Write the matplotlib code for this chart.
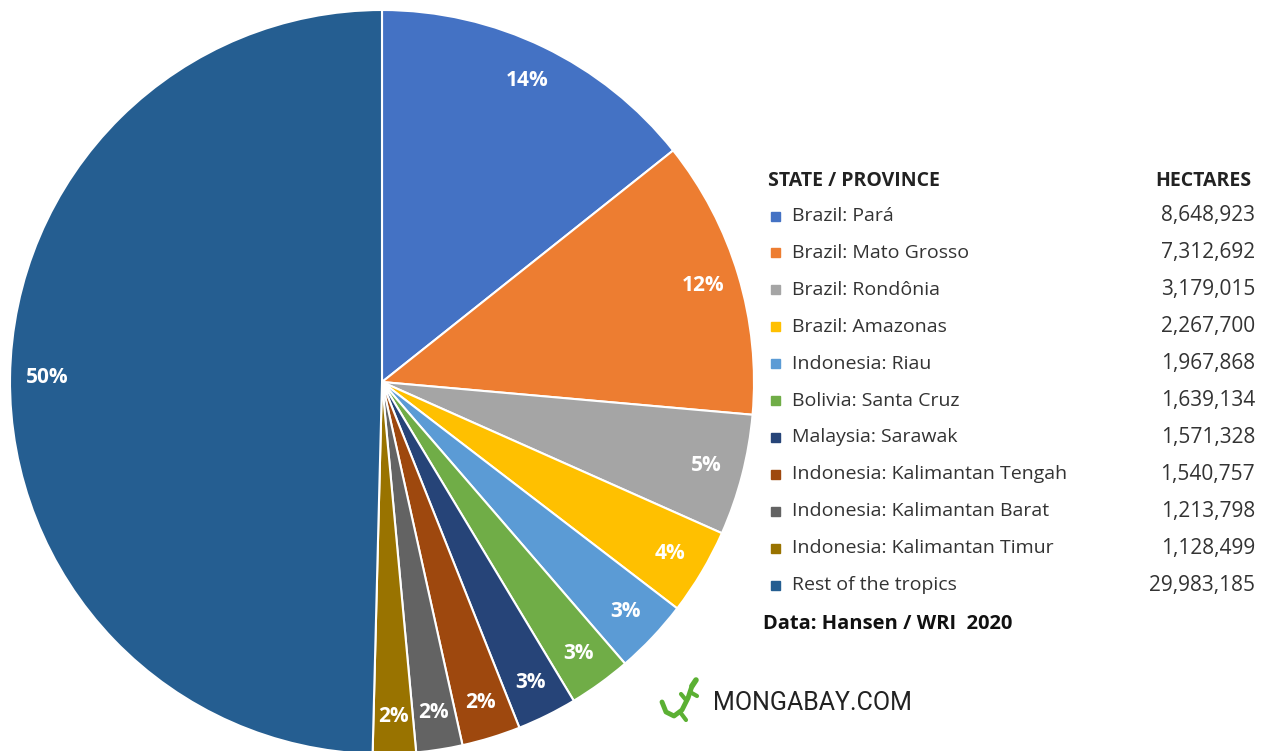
import numpy as np
import matplotlib.pyplot as plt
from matplotlib.patches import Rectangle

regioes = ['Brazil: Pará', 'Brazil: Mato Grosso', 'Brazil: Rondônia', 'Brazil: Amazonas',
           'Indonesia: Riau', 'Bolivia: Santa Cruz', 'Malaysia: Sarawak',
           'Indonesia: Kalimantan Tengah', 'Indonesia: Kalimantan Barat',
           'Indonesia: Kalimantan Timur', 'Rest of the tropics']
hectares = [8648923, 7312692, 3179015, 2267700, 1967868, 1639134, 1571328,
            1540757, 1213798, 1128499, 29983185]
rotulos = ['14%', '12%', '5%', '4%', '3%', '3%', '3%', '2%', '2%', '2%', '50%']
cores = ['#4472C4', '#ED7D31', '#A5A5A5', '#FFC000', '#5B9BD5', '#70AD47',
         '#264478', '#9E480E', '#636363', '#997300', '#255E91']

W, H = 1266, 751
fig = plt.figure(figsize=(W / 100, H / 100), dpi=100)
fig.patch.set_facecolor('white')

# pie axes (pixel box: x 10..754, y 10..754 from top)
ax = fig.add_axes([10 / W, (H - 754) / H, 744 / W, 744 / H])
fatias, _ = ax.pie(hectares, colors=cores, startangle=90, counterclock=False,
                   wedgeprops={'edgecolor': 'white', 'linewidth': 1.5})
for w, r in zip(fatias, rotulos):
    ang = np.deg2rad((w.theta1 + w.theta2) / 2)
    ax.text(0.9 * np.cos(ang), 0.9 * np.sin(ang), r, ha='center', va='center',
            color='white', fontsize=15, fontweight='bold', family='Open Sans')
ax.set_xlim(-1, 1)
ax.set_ylim(-1, 1)
ax.set_aspect('equal')
ax.axis('off')

# overlay for legend table in pixel coordinates
ov = fig.add_axes([0, 0, 1, 1], facecolor='none')
ov.set_xlim(0, W)
ov.set_ylim(H, 0)
ov.axis('off')

fonte = 'Open Sans'
ov.text(768, 181, 'STATE / PROVINCE', fontsize=14, fontweight='bold',
        family=fonte, color='#222222', va='center')
ov.text(1251, 181, 'HECTARES', fontsize=14, fontweight='bold',
        family=fonte, color='#222222', va='center', ha='right')

y0, passo = 216, 36.9
for i, (nome, val, cor) in enumerate(zip(regioes, hectares, cores)):
    y = y0 + i * passo
    ov.add_patch(Rectangle((771, y - 4.5), 9, 9, color=cor))
    ov.text(792, y, nome, fontsize=14, family=fonte, color='#333333', va='center')
    ov.text(1255, y, f'{val:,}', fontsize=15, family=fonte, color='#333333',
            va='center', ha='right')

ov.text(763, 624, 'Data: Hansen / WRI  2020', fontsize=14.5, fontweight='bold',
        family=fonte, color='#111111', va='center')

# logo
verde = '#5BB033'
ov.plot([662, 666, 674, 682, 688, 692], [702, 712, 716, 710, 698, 686], color=verde,
        lw=3.5, solid_capstyle='round')
ov.plot([686, 681], [700, 694], color=verde, lw=3, solid_capstyle='round')
ov.plot([690, 697], [692, 696], color=verde, lw=3, solid_capstyle='round')
ov.plot([680, 686], [712, 720], color=verde, lw=3, solid_capstyle='round')
ov.plot([692, 696], [686, 680], color=verde, lw=4, solid_capstyle='round')
ov.text(713, 703, 'MONGABAY.COM', fontsize=18, family='Roboto', color='#222222',
        va='center')

fig.savefig('out.png', dpi=100)
